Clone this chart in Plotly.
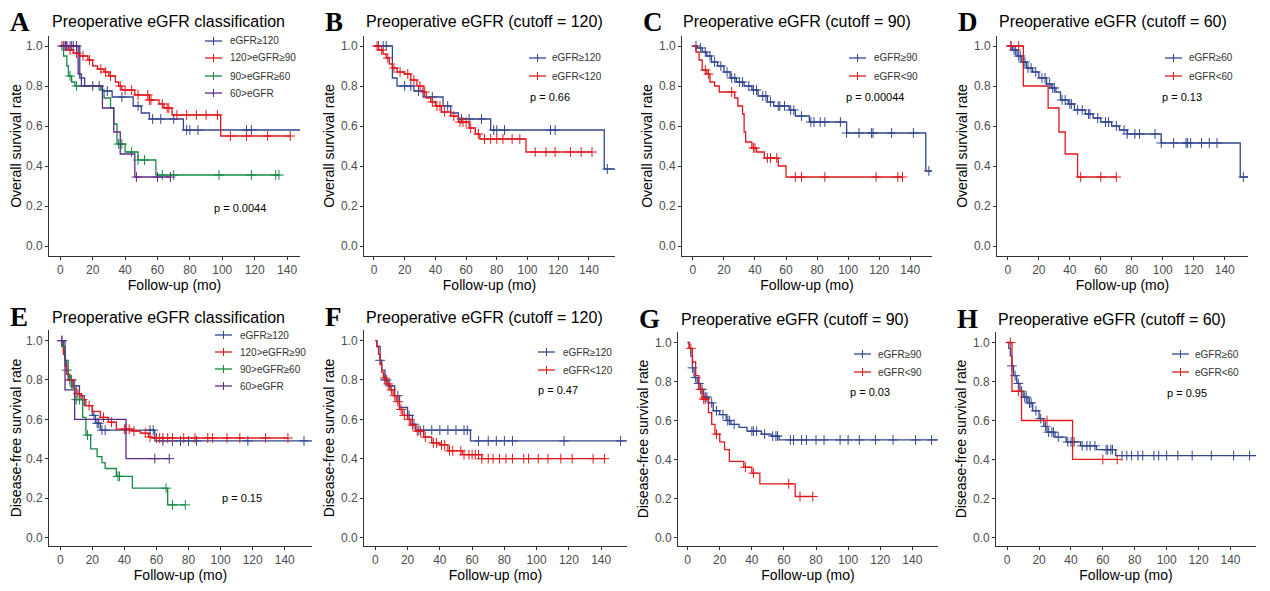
import plotly.graph_objects as go

W, H = 1270, 591
OFF = 8  # page body margin
FW, FH = W - OFF, H - OFF
BLUE, RED, GREEN, PURPLE = "#34468F", "#E0191C", "#178A45", "#5E2C86"

# ---- data: each curve = (drop times, survival after drop, end time, censor times)
A_ge120 = ([12, 15, 26, 32, 45, 50, 55, 76, 150], [0.84, 0.80, 0.775, 0.745, 0.70, 0.665, 0.635, 0.58, 0.385], 157,
           [3, 6, 8, 20, 24, 29, 38, 48, 57, 62, 70, 78, 80, 85, 115, 118, 152])
A_90 = ([5, 8, 12, 17, 20, 23, 27, 30, 34, 36, 38, 46, 55, 61, 64, 69, 99],
        [0.98, 0.965, 0.95, 0.93, 0.90, 0.885, 0.87, 0.85, 0.82, 0.80, 0.78, 0.755, 0.73, 0.71, 0.69, 0.655, 0.55], 142,
        [2, 4, 6, 10, 14, 18, 25, 28, 31, 37, 40, 44, 48, 54, 55, 56, 63, 66, 67, 72, 78, 84, 90, 97, 105, 115, 128, 142])
A_60 = ([2, 4, 5, 7, 9, 25, 27, 31, 33, 35, 40, 48, 59],
        [0.95, 0.90, 0.85, 0.82, 0.80, 0.78, 0.74, 0.69, 0.61, 0.51, 0.47, 0.43, 0.355], 135,
        [6, 10, 36, 38, 44, 48, 52, 63, 70, 98, 118, 133, 135])
A_lt60 = ([11, 13, 26, 33, 37, 46], [0.86, 0.80, 0.69, 0.57, 0.46, 0.345], 68, [1, 3, 4, 7, 10, 47, 60, 68])

B_lt120 = ([3, 6, 8, 10, 12, 15, 20, 24, 28, 32, 34, 37, 40, 44, 50, 55, 62, 66, 69, 99],
           [0.98, 0.96, 0.94, 0.91, 0.89, 0.87, 0.86, 0.83, 0.80, 0.77, 0.74, 0.72, 0.70, 0.67, 0.65, 0.62, 0.59, 0.56, 0.535, 0.47], 142,
           [2, 5, 9, 13, 17, 22, 26, 30, 33, 38, 41, 43, 46, 52, 56, 58, 60, 63, 68, 72, 76, 80, 84, 90, 95, 105, 112, 118, 128, 135, 142])

C_ge90 = ([3, 6, 9, 12, 16, 20, 24, 28, 33, 38, 42, 48, 52, 62, 66, 75, 99, 150],
          [0.99, 0.97, 0.95, 0.92, 0.90, 0.87, 0.84, 0.82, 0.80, 0.78, 0.75, 0.72, 0.70, 0.68, 0.65, 0.62, 0.565, 0.375], 157,
          [2, 5, 8, 11, 14, 18, 22, 25, 27, 30, 32, 36, 39, 41, 45, 47, 50, 55, 56, 59, 63, 65, 70, 76, 78, 82, 85, 95, 99, 107, 115, 116, 128, 142, 152])
C_lt90 = ([2, 4, 6, 9, 11, 14, 17, 27, 29, 32, 33, 34, 38, 41, 46, 55, 60],
          [0.97, 0.93, 0.88, 0.86, 0.82, 0.80, 0.77, 0.74, 0.70, 0.66, 0.57, 0.52, 0.49, 0.47, 0.44, 0.40, 0.345], 135,
          [8, 10, 25, 39, 40, 48, 50, 54, 66, 70, 85, 118, 132, 135])

D_ge60 = ([3, 6, 9, 12, 16, 20, 25, 28, 31, 34, 39, 43, 50, 55, 60, 67, 72, 77, 99, 150],
          [0.98, 0.95, 0.92, 0.89, 0.87, 0.84, 0.81, 0.79, 0.77, 0.73, 0.71, 0.68, 0.66, 0.64, 0.62, 0.60, 0.58, 0.56, 0.515, 0.345], 157,
          [2, 4, 5, 7, 8, 10, 11, 13, 15, 18, 22, 24, 27, 29, 30, 35, 37, 40, 41, 45, 48, 52, 53, 58, 63, 65, 70, 75, 77, 82, 85, 95, 99, 107, 115, 116, 118, 125, 130, 135, 152])
D_lt60 = ([10, 26, 33, 37, 45], [0.80, 0.69, 0.57, 0.46, 0.345], 70, [2, 7, 47, 60, 70])

E_ge120 = ([2, 3, 4, 5, 8, 12, 15, 20, 22, 25, 59], [0.95, 0.90, 0.85, 0.80, 0.77, 0.72, 0.67, 0.62, 0.58, 0.545, 0.49], 157,
           [1, 4, 6, 7, 9, 21, 23, 24, 26, 28, 56, 58, 64, 70, 75, 80, 85, 117, 152])
E_90 = ([1, 2, 3, 4, 6, 8, 10, 13, 16, 20, 25, 30, 35, 45, 50, 55, 57],
        [0.97, 0.93, 0.87, 0.83, 0.80, 0.76, 0.73, 0.70, 0.67, 0.64, 0.61, 0.585, 0.55, 0.54, 0.53, 0.51, 0.505], 142,
        [7, 11, 14, 18, 27, 32, 40, 41, 43, 46, 53, 56, 60, 62, 64, 67, 70, 77, 84, 92, 95, 104, 112, 128, 142])
E_60 = ([1, 3, 5, 7, 9, 14, 16, 19, 23, 26, 28, 35, 45, 67],
        [0.97, 0.90, 0.82, 0.76, 0.70, 0.61, 0.52, 0.45, 0.41, 0.38, 0.35, 0.31, 0.25, 0.165], 78,
        [10, 12, 17, 36, 37, 66, 70, 78])
E_lt60 = ([3, 9, 41], [0.75, 0.60, 0.40], 68, [1, 59, 68])

F_ge120 = ([1, 3, 4, 6, 8, 12, 15, 20, 23, 25, 59], [0.97, 0.90, 0.85, 0.80, 0.77, 0.72, 0.66, 0.62, 0.575, 0.545, 0.49], 157,
           [3, 6, 7, 9, 14, 21, 24, 27, 30, 35, 40, 45, 50, 55, 57, 64, 70, 75, 80, 85, 117, 152])
F_lt120 = ([1, 2, 3, 4, 5, 7, 9, 11, 13, 15, 17, 20, 22, 25, 30, 35, 40, 45, 54, 66],
           [0.97, 0.93, 0.88, 0.84, 0.81, 0.78, 0.75, 0.72, 0.69, 0.65, 0.62, 0.60, 0.57, 0.54, 0.51, 0.48, 0.47, 0.44, 0.42, 0.40], 142,
           [6, 8, 10, 12, 14, 16, 18, 21, 23, 26, 28, 31, 36, 38, 41, 43, 46, 48, 53, 55, 58, 60, 62, 64, 66, 70, 73, 77, 81, 85, 92, 95, 101, 107, 115, 122, 135, 142])

G_ge90 = ([1, 2, 3, 4, 6, 8, 10, 13, 16, 20, 24, 27, 32, 37, 46, 52, 57],
          [0.97, 0.93, 0.87, 0.82, 0.79, 0.76, 0.72, 0.69, 0.65, 0.63, 0.60, 0.58, 0.565, 0.545, 0.53, 0.52, 0.50], 157,
          [3, 5, 7, 9, 11, 12, 15, 18, 22, 25, 26, 29, 40, 41, 43, 48, 53, 55, 56, 64, 66, 71, 74, 80, 85, 95, 100, 107, 117, 128, 142, 152])
G_lt90 = ([1, 3, 5, 7, 9, 13, 15, 17, 20, 23, 26, 35, 40, 45, 67],
          [0.97, 0.90, 0.83, 0.76, 0.71, 0.64, 0.58, 0.53, 0.49, 0.45, 0.39, 0.36, 0.33, 0.275, 0.21], 78,
          [2, 8, 10, 11, 18, 36, 41, 63, 70, 78])

H_ge60 = ([1, 2, 3, 4, 6, 8, 10, 13, 16, 20, 23, 25, 30, 37, 46, 56, 68],
          [0.97, 0.93, 0.88, 0.83, 0.79, 0.75, 0.72, 0.69, 0.65, 0.61, 0.57, 0.54, 0.515, 0.49, 0.47, 0.45, 0.42], 157,
          [3, 5, 7, 9, 11, 12, 14, 15, 18, 21, 24, 26, 28, 29, 32, 38, 40, 42, 47, 50, 52, 55, 62, 63, 65, 66, 72, 75, 78, 82, 85, 92, 95, 100, 107, 116, 128, 142, 152])
H_lt60 = ([3, 9, 41], [0.75, 0.60, 0.40], 69, [2, 7, 25, 60, 69])

LEG4 = ["eGFR\u2265120", "120>eGFR\u226590", "90>eGFR\u226560", "60>eGFR"]

panels = [
    ("A", "Preoperative eGFR classification", "Overall survival rate", "p = 0.0044",
     [A_ge120, A_90, A_60, A_lt60], LEG4, [BLUE, RED, GREEN, PURPLE],
     dict(x0=49, x1=300, y0=36, y1=256, xr=[-7, 148], yr=[-0.05, 1.05], leg=(205, 228, [41, 58, 76, 93]), p=(212, 208), t=(50, 22))),
    ("B", "Preoperative eGFR (cutoff = 120)", "Overall survival rate", "p = 0.66",
     [A_ge120, B_lt120], ["eGFR\u2265120", "eGFR<120"], [BLUE, RED],
     dict(x0=364, x1=615, y0=36, y1=256, xr=[-6.5, 157], yr=[-0.05, 1.05], leg=(529, 550, [58, 76]), p=(528, 97), t=(364, 22))),
    ("C", "Preoperative eGFR (cutoff = 90)", "Overall survival rate", "p = 0.00044",
     [C_ge90, C_lt90], ["eGFR\u226590", "eGFR<90"], [BLUE, RED],
     dict(x0=682, x1=932, y0=36, y1=256, xr=[-7, 154], yr=[-0.05, 1.05], leg=(849, 872, [58, 76]), p=(844, 97), t=(681, 22))),
    ("D", "Preoperative eGFR (cutoff = 60)", "Overall survival rate", "p = 0.13",
     [D_ge60, D_lt60], ["eGFR\u226560", "eGFR<60"], [BLUE, RED],
     dict(x0=997, x1=1248, y0=36, y1=256, xr=[-7, 155], yr=[-0.05, 1.05], leg=(1165, 1187, [58, 76]), p=(1160, 97), t=(997, 22))),
    ("E", "Preoperative eGFR classification", "Disease-free survival rate", "p = 0.15",
     [E_ge120, E_90, E_60, E_lt60], LEG4, [BLUE, RED, GREEN, PURPLE],
     dict(x0=49, x1=312, y0=330, y1=546, xr=[-7, 157], yr=[-0.044, 1.054], leg=(215, 238, [335, 352, 369, 386]), p=(220, 498), t=(50, 317))),
    ("F", "Preoperative eGFR (cutoff = 120)", "Disease-free survival rate", "p = 0.47",
     [F_ge120, F_lt120], ["eGFR\u2265120", "eGFR<120"], [BLUE, RED],
     dict(x0=364, x1=627, y0=330, y1=546, xr=[-7, 156], yr=[-0.044, 1.054], leg=(538, 561, [352, 370]), p=(536, 390), t=(364, 317))),
    ("G", "Preoperative eGFR (cutoff = 90)", "Disease-free survival rate", "p = 0.03",
     [G_ge90, G_lt90], ["eGFR\u226590", "eGFR<90"], [BLUE, RED],
     dict(x0=678, x1=938, y0=332, y1=546, xr=[-6, 156], yr=[-0.044, 1.054], leg=(854, 876, [354, 372]), p=(848, 392), t=(679, 319))),
    ("H", "Preoperative eGFR (cutoff = 60)", "Disease-free survival rate", "p = 0.95",
     [H_ge60, H_lt60], ["eGFR\u226560", "eGFR<60"], [BLUE, RED],
     dict(x0=996, x1=1256, y0=332, y1=546, xr=[-7, 156], yr=[-0.044, 1.054], leg=(1172, 1193, [354, 372]), p=(1165, 393), t=(996, 319))),
]

def px(x): return (x - OFF) / FW
def py(y): return 1 - (y - OFF) / FH

def surv_at(drops, vals, t):
    s = 1.0
    for d, v in zip(drops, vals):
        if d <= t:
            s = v
    return s

fig = go.Figure()
shapes, annos = [], []
lay = {}
for i, (letter, title, ylab, ptxt, curves, labels, cols, g) in enumerate(panels):
    n = i + 1
    xa, ya = ("x" if n == 1 else f"x{n}"), ("y" if n == 1 else f"y{n}")
    for (drops, vals, end, cens), col in zip(curves, cols):
        xs, ys = [0], [1.0]
        for d, v in zip(drops, vals):
            xs += [d, d]; ys += [ys[-1], v]
        xs.append(end); ys.append(ys[-1])
        fig.add_trace(go.Scatter(x=xs, y=ys, mode="lines", line=dict(color=col, width=1.3),
                                 xaxis=xa, yaxis=ya, showlegend=False, hoverinfo="skip"))
        fig.add_trace(go.Scatter(x=cens, y=[surv_at(drops, vals, c) for c in cens], mode="markers",
                                 marker=dict(symbol="cross-thin", size=7, line=dict(color=col, width=1)),
                                 xaxis=xa, yaxis=ya, showlegend=False, hoverinfo="skip"))
    ax = dict(domain=[px(g["x0"]), px(g["x1"])], range=g["xr"], showgrid=False, zeroline=False,
              showline=True, linecolor="#333", linewidth=1, ticks="outside", ticklen=3, tickcolor="#333",
              tickvals=[0, 20, 40, 60, 80, 100, 120, 140], tickfont=dict(size=12, color="#4d4d4d"),
              title=dict(text="Follow-up (mo)", font=dict(size=14, color="black"), standoff=1),
              anchor=ya)
    ay = dict(domain=[py(g["y1"]), py(g["y0"])], range=g["yr"], showgrid=False, zeroline=False,
              showline=True, linecolor="#333", linewidth=1, ticks="outside", ticklen=3, tickcolor="#333",
              tickvals=[0, 0.2, 0.4, 0.6, 0.8, 1.0], tickformat=".1f", tickfont=dict(size=12, color="#4d4d4d"),
              title=dict(text=ylab, font=dict(size=14, color="black"), standoff=3),
              anchor=xa)
    lay["xaxis" if n == 1 else f"xaxis{n}"] = ax
    lay["yaxis" if n == 1 else f"yaxis{n}"] = ay
    annos.append(dict(x=px(g["x0"] - 41), y=py(g["t"][1]), xref="paper", yref="paper", text=f"<b>{letter}</b>",
                      showarrow=False, xanchor="left", yanchor="middle",
                      font=dict(family="Liberation Serif", size=27, color="black")))
    annos.append(dict(x=px(g["t"][0]), y=py(g["t"][1]), xref="paper", yref="paper", text=title,
                      showarrow=False, xanchor="left", yanchor="middle", font=dict(size=16, color="black")))
    lx, tx, lys = g["leg"]
    for lab, col, yy in zip(labels, cols, lys):
        shapes.append(dict(type="line", xref="paper", yref="paper", x0=px(lx), x1=px(lx + 17), y0=py(yy), y1=py(yy),
                           line=dict(color=col, width=1.3)))
        shapes.append(dict(type="line", xref="paper", yref="paper", x0=px(lx + 8.5), x1=px(lx + 8.5),
                           y0=py(yy - 4), y1=py(yy + 4), line=dict(color=col, width=1)))
        annos.append(dict(x=px(tx), y=py(yy), xref="paper", yref="paper", text=lab, showarrow=False,
                          xanchor="left", yanchor="middle", font=dict(size=10, color="#333")))
    annos.append(dict(x=px(g["p"][0]), y=py(g["p"][1]), xref="paper", yref="paper", text=ptxt, showarrow=False,
                      xanchor="left", yanchor="middle", font=dict(size=11, color="black")))

fig.update_layout(width=FW, height=FH, margin=dict(l=0, r=0, t=0, b=0), plot_bgcolor="white",
                  paper_bgcolor="white", font=dict(family="Liberation Sans, Arial", color="black"),
                  shapes=shapes, annotations=annos, **lay)
fig.write_html("out.html")
